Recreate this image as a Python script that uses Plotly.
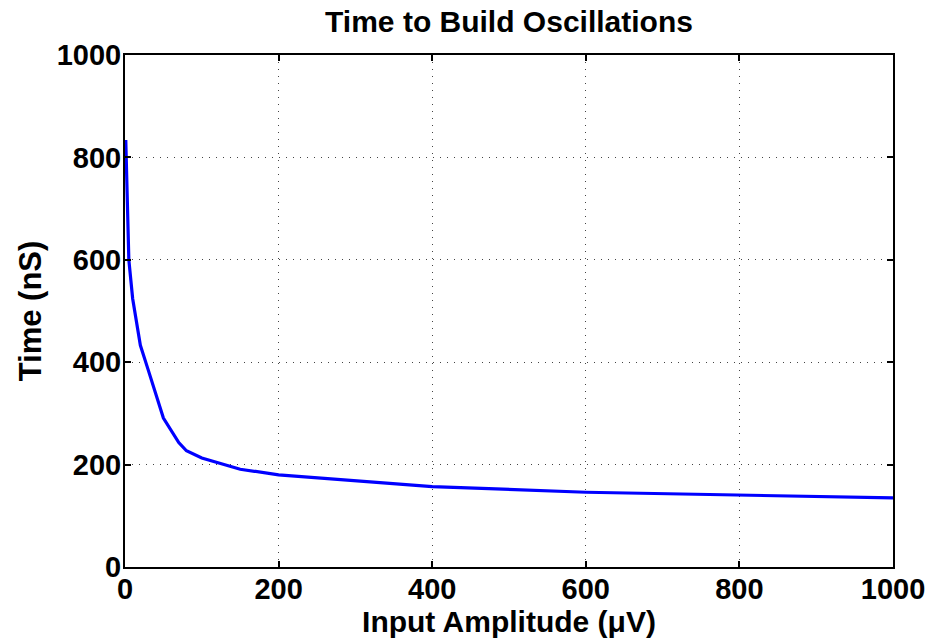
import plotly.graph_objects as go

# Data
amplitude_uV = [1, 5, 10, 20, 30, 40, 50, 70, 80, 100, 150, 200, 400, 600, 800, 1000]
time_nS = [834, 600, 524, 433, 386, 339, 291, 243, 227, 213, 191, 180, 157, 146, 140, 135]

x_ticks = [0, 200, 400, 600, 800, 1000]
y_ticks = [0, 200, 400, 600, 800, 1000]

FONT = "Liberation Sans"

fig = go.Figure()
fig.add_trace(go.Scatter(
    x=amplitude_uV, y=time_nS, mode="lines",
    line=dict(color="#0000FF", width=3.2),
    showlegend=False, hoverinfo="skip",
))

axis_common = dict(
    showline=True, linecolor="black", linewidth=2, mirror="ticks",
    ticks="inside", ticklen=6, tickwidth=2, tickcolor="black",
    showgrid=True, gridcolor="#444444", gridwidth=1, griddash="1px,6px",
    zeroline=False,
    tickfont=dict(family=FONT, size=29, color="black", weight="bold"),
)

fig.update_layout(
    width=932, height=642,
    margin=dict(l=125, r=39, t=55, b=75, autoexpand=False),
    paper_bgcolor="white", plot_bgcolor="white",
    font=dict(family=FONT, color="black"),
    title=dict(
        text="<b>Time to Build Oscillations</b>",
        font=dict(family=FONT, size=30, color="black"),
        x=(125 + 893) / 2 / 932, xanchor="center",
        y=1 - 21 / 642, yanchor="middle", yref="container",
    ),
    xaxis=dict(
        range=[0, 1000], tickvals=x_ticks, ticktext=[str(v) for v in x_ticks],
        title=dict(text="<b>Input Amplitude (μV)</b>",
                   font=dict(family=FONT, size=30, color="black"), standoff=0),
        ticklabelstandoff=-5,
        **axis_common,
    ),
    yaxis=dict(
        range=[0, 1000], tickvals=y_ticks, ticktext=[str(v) for v in y_ticks],
        title=dict(text="<b>Time (nS)</b>",
                   font=dict(family=FONT, size=31, color="black"), standoff=6),
        ticklabelstandoff=-4,
        **axis_common,
    ),
)

fig.write_html("out.html")
